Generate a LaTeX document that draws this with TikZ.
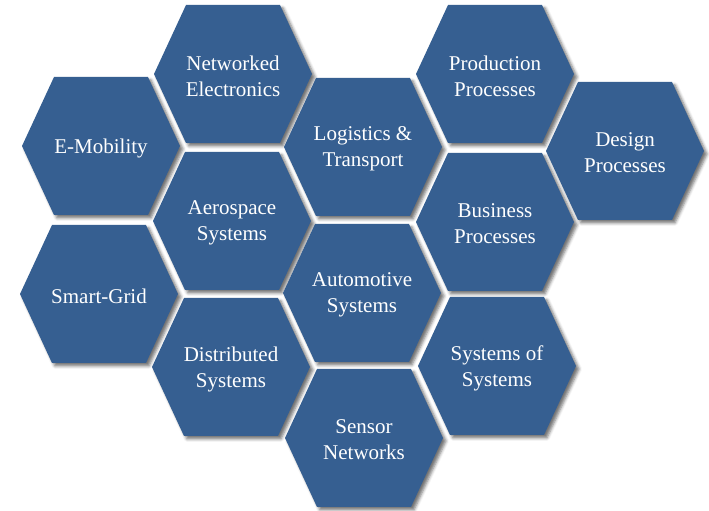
\documentclass[tikz,border=0pt]{standalone}
\usepackage{fontspec}
\setmainfont{Liberation Serif}
\usetikzlibrary{shadows.blur}
\definecolor{hexblue}{RGB}{54,95,145}

\begin{document}
\begin{tikzpicture}
[x=1pt,y=1pt,
  hexshadow/.style={blur shadow={shadow xshift=3pt,shadow yshift=-3pt,
    shadow blur radius=3pt,shadow opacity=55}},
  hexfill/.style={fill=hexblue},
  hexlabel/.style={text=white,align=center,yshift=-2pt,
    font=\rmfamily\fontsize{21}{26}\selectfont}]
\useasboundingbox (0,0) rectangle (709,511);
%% shadows first, so that none lies over a cell
\foreach \x/\y in {233/437, 101/365, 363/364, 495/437, 625/360, 232/290,
  495/289, 99/217, 362/218, 231/144, 497/145, 364/73}
{
  \path[hexshadow] (\x,\y) +(79,0) -- +(47,69) -- +(-47,69) -- +(-79,0)
    -- +(-47,-69) -- +(47,-69) -- cycle;
}
%% cells and labels
\foreach \nodename/\x/\y/\txt in {netel/233/437/Networked\\Electronics,
  emob/101/365/E-Mobility, logis/363/364/Logistics \&\\Transport,
  prod/495/437/Production\\Processes, design/625/360/Design\\Processes,
  aero/232/290/Aerospace\\Systems, busi/495/289/Business\\Processes,
  smart/99/217/Smart-Grid, auto/362/218/Automotive\\Systems,
  distr/231/144/Distributed\\Systems, sos/497/145/Systems of\\Systems,
  sensor/364/73/Sensor\\Networks}
{
  \fill[hexfill] (\x,\y) +(79,0) -- +(47,69) -- +(-47,69) -- +(-79,0)
    -- +(-47,-69) -- +(47,-69) -- cycle;
  \node (\nodename) at (\x,\y) [hexlabel] {\txt};
}
\end{tikzpicture}
\end{document}
